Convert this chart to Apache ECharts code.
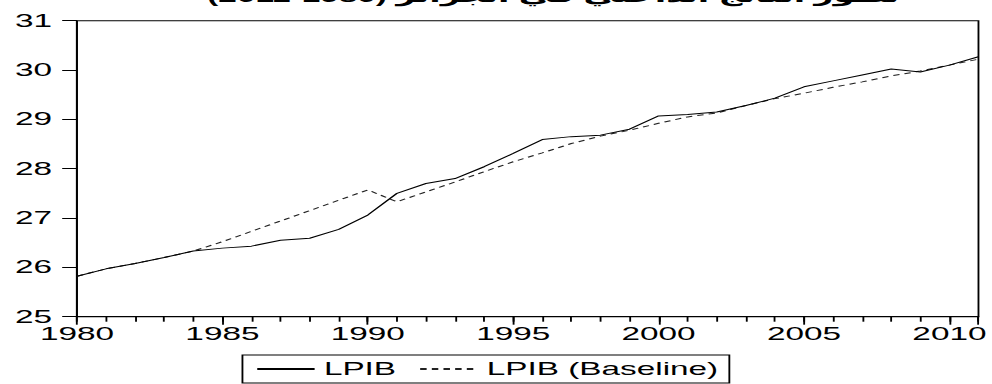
<!DOCTYPE html>
<html><head><meta charset="utf-8">
<script src="https://cdn.jsdelivr.net/npm/echarts@6/dist/echarts.min.js"></script>
<style>
html,body{margin:0;padding:0;background:#fff;overflow:hidden;}
#wrap{width:992px;height:384px;overflow:hidden;position:relative;background:#fff;}
#chart{width:536px;height:384px;transform:scaleX(1.850746);transform-origin:0 0;}
</style></head><body>
<div id="wrap"><div id="chart"></div></div>
<script>
const years = [1980,1981,1982,1983,1984,1985,1986,1987,1988,1989,1990,1991,1992,1993,1994,1995,
               1996,1997,1998,1999,2000,2001,2002,2003,2004,2005,2006,2007,2008,2009,2010,2011];
const lpib = [25.82,25.97,26.08,26.20,26.33,26.39,26.43,26.55,26.59,26.77,27.06,27.50,27.70,27.80,28.04,28.31,
              28.59,28.65,28.68,28.80,29.07,29.10,29.15,29.28,29.43,29.66,29.78,29.90,30.02,29.96,30.10,30.27];
const lpibBaseline = [25.82,25.97,26.08,26.20,26.33,26.52,26.73,26.94,27.15,27.36,27.57,27.33,27.53,27.73,27.94,28.14,
              28.32,28.51,28.66,28.78,28.92,29.05,29.13,29.28,29.42,29.53,29.65,29.76,29.88,29.98,30.10,30.22];
const xTickLabels = [1980,1985,1990,1995,2000,2005,2010];
const yTickLabels = [25,26,27,28,29,30,31];
const seriesNames = ['LPIB','LPIB (Baseline)'];
const titleText = '(2011-1980)\u200E تطور الناتج الداخلي في الجزائر';

const FONT = '"Liberation Sans", Arial, sans-serif';
const chart = echarts.init(document.getElementById('chart'), null, {renderer:'svg'});
chart.setOption({
  animation:false,
  backgroundColor:'#fff',
  title:{
    text:titleText, left:107, top:-18,
    textStyle:{fontSize:18, fontWeight:'bold', color:'#000', fontFamily:'"Liberation Sans","DejaVu Sans",sans-serif'}
  },
  legend:{
    data:seriesNames, left:131, top:355, orient:'horizontal',
    borderColor:'#000', borderWidth:1, padding:[5,6,5,7],
    itemGap:12, itemWidth:31, itemHeight:14,
    itemStyle:{opacity:0},
    textStyle:{fontSize:18, color:'#000', fontFamily:FONT}
  },
  grid:{left:41.6, right:5.4, top:20.7, bottom:67.3, show:true, borderColor:'#000', borderWidth:1, backgroundColor:'transparent'},
  xAxis:[{
    type:'value', min:1980, max:2011, interval:1,
    axisLine:{show:true, onZero:false, lineStyle:{color:'#000', width:1}},
    axisTick:{show:true, length:5, lineStyle:{color:'#000', width:1}},
    axisLabel:{
      formatter:v => xTickLabels.includes(v) ? String(v) : '',
      margin:8, fontSize:18, color:'#000', fontFamily:FONT, hideOverlap:false
    },
    splitLine:{show:false}
  },{
    type:'value', position:'bottom', min:1980, max:2011, interval:5,
    axisLine:{show:false, onZero:false},
    axisTick:{show:true, length:8, lineStyle:{color:'#000', width:1}},
    axisLabel:{show:false},
    splitLine:{show:false}
  }],
  yAxis:{
    type:'value', min:yTickLabels[0], max:yTickLabels[yTickLabels.length-1], interval:1,
    axisLine:{show:true, onZero:false, lineStyle:{color:'#000', width:1}},
    axisTick:{show:true, length:8, lineStyle:{color:'#000', width:1}},
    axisLabel:{margin:13.5, fontSize:18, color:'#000', fontFamily:FONT},
    splitLine:{show:false}
  },
  series:[{
    name:seriesNames[0], type:'line', xAxisIndex:0,
    data:years.map((y,i)=>[y,lpib[i]]),
    symbol:'none', lineStyle:{color:'#000', width:1}, itemStyle:{color:'#000'}, z:3
  },{
    name:seriesNames[1], type:'line', xAxisIndex:0,
    data:years.map((y,i)=>[y,lpibBaseline[i]]),
    symbol:'none', lineStyle:{color:'#222', width:1, type:[3.5,2.8]}, itemStyle:{color:'#222'}, z:2
  }]
});
</script>
</body></html>
